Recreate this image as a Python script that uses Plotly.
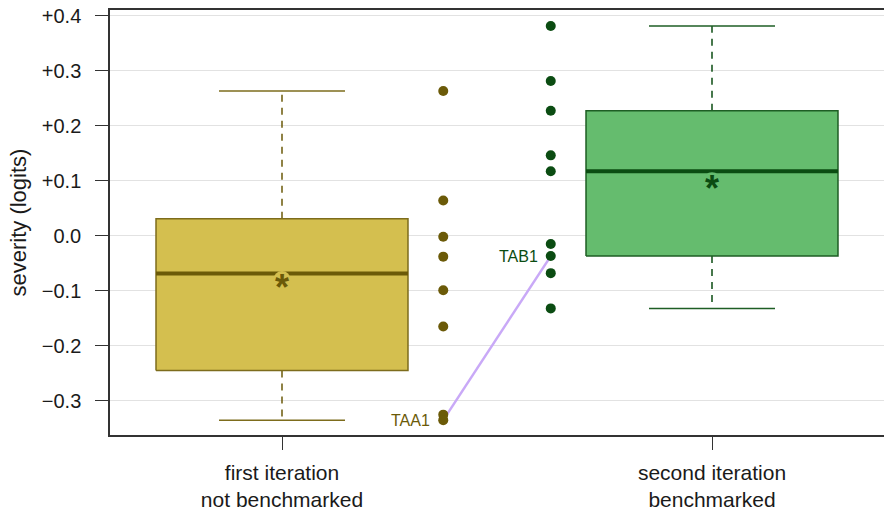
import numpy as np
import plotly.graph_objects as go

# Severity estimates (logits) per unit, by iteration
categories = ["first iteration<br>not benchmarked", "second iteration<br>benchmarked"]
first_vals = [0.263, 0.064, -0.002, -0.038, -0.099, -0.165, -0.325, -0.335]
first_ids = ["", "", "", "", "", "", "", "TAA1"]
second_vals = [0.381, 0.281, 0.227, 0.146, 0.117, -0.015, -0.037, -0.068, -0.132]
second_ids = ["", "", "", "", "", "", "TAB1", "", ""]

tick_vals = [-0.3, -0.2, -0.1, 0.0, 0.1, 0.2, 0.3, 0.4]
tick_text = ["\u22120.3", "\u22120.2", "\u22120.1", "0.0", "+0.1", "+0.2", "+0.3", "+0.4"]

FONT = "Liberation Sans, Arial, Helvetica, sans-serif"

styles = [
    dict(fill="#D4BF4F", edge="#7D6C1C", dark="#6B5A08"),
    dict(fill="#65BC6E", edge="#1E5E24", dark="#0B4C12"),
]


def fivenum(v):
    x = np.sort(np.asarray(v, dtype=float))
    n = len(x)
    n4 = np.floor((n + 3) / 2) / 2
    d = np.array([1, n4, (n + 1) / 2, n + 1 - n4, n]) - 1
    return 0.5 * (x[np.floor(d).astype(int)] + x[np.ceil(d).astype(int)])


fig = go.Figure()

box_half = 0.293
cap_half = box_half / 2
strip_offset = 0.375

groups = [first_vals, second_vals]
ids = [first_ids, second_ids]
centers = [1, 2]
strip_x = [1 + strip_offset, 2 - strip_offset]

for c, vals, st in zip(centers, groups, styles):
    lo, q1, med, q3, hi = fivenum(vals)
    # whiskers (dashed) and caps
    for a, b in [(q3, hi), (q1, lo)]:
        fig.add_trace(go.Scatter(x=[c, c], y=[a, b], mode="lines",
                                 line=dict(color=st["dark"], width=1.5, dash="7px,6px"),
                                 hoverinfo="skip"))
    for v in (lo, hi):
        fig.add_trace(go.Scatter(x=[c - cap_half, c + cap_half], y=[v, v], mode="lines",
                                 line=dict(color=st["edge"], width=1.5), hoverinfo="skip"))
    # box body
    fig.add_trace(go.Scatter(x=[c - box_half, c + box_half, c + box_half, c - box_half, c - box_half],
                             y=[q1, q1, q3, q3, q1], mode="lines", fill="toself",
                             fillcolor=st["fill"], line=dict(color=st["edge"], width=1.5),
                             hoverinfo="skip"))
    # median
    fig.add_trace(go.Scatter(x=[c - box_half, c + box_half], y=[med, med], mode="lines",
                             line=dict(color=st["dark"], width=4), hoverinfo="skip"))
    # mean with halo and asterisk
    mean = float(np.mean(vals))
    fig.add_trace(go.Scatter(x=[c], y=[mean], mode="markers",
                             marker=dict(size=17, color=st["fill"], line=dict(width=0)),
                             hoverinfo="skip"))
    fig.add_annotation(x=c, y=mean, text="<b>*</b>", showarrow=False,
                       font=dict(family=FONT, size=36, color=st["dark"]),
                       yshift=-8)

# link between the labelled units
a_idx = first_ids.index("TAA1")
b_idx = second_ids.index("TAB1")
fig.add_trace(go.Scatter(x=[strip_x[0], strip_x[1]], y=[first_vals[a_idx], second_vals[b_idx]],
                         mode="lines", line=dict(color="#C9A9F7", width=2.5), hoverinfo="skip"))

# individual points
for sx, vals, lab, st in zip(strip_x, groups, ids, styles):
    fig.add_trace(go.Scatter(x=[sx] * len(vals), y=vals, mode="markers",
                             marker=dict(size=10, color=st["dark"]), hoverinfo="skip"))
    for v, name in zip(vals, lab):
        if name:
            fig.add_annotation(x=sx, y=v, text=name, showarrow=False, xanchor="right",
                               xshift=-11, font=dict(family=FONT, size=16, color=st["dark"]))

fig.add_annotation(x=0, y=0.5, xref="paper", yref="paper", text="severity (logits)",
                   textangle=-90, showarrow=False, xanchor="center", yanchor="middle",
                   xshift=-92, font=dict(family=FONT, size=22, color="#1a1a1a"))

fig.update_layout(
    width=884, height=513,
    margin=dict(l=110, r=0, t=10, b=78),
    paper_bgcolor="white", plot_bgcolor="white",
    showlegend=False,
    font=dict(family=FONT, size=20, color="#1a1a1a"),
    xaxis=dict(range=[0.6, 2.4], tickvals=centers, ticktext=categories,
               ticks="outside", ticklen=13, tickwidth=1.3, tickcolor="#333",
               showline=True, linecolor="#333", linewidth=1.5, mirror=True,
               showgrid=False, zeroline=False, ticklabelstandoff=5, automargin=False,
               tickfont=dict(family=FONT, size=21, color="#1a1a1a")),
    yaxis=dict(range=[-0.362, 0.41], tickvals=tick_vals, ticktext=tick_text,
               ticks="outside", ticklen=13, tickwidth=1.3, tickcolor="#333",
               showline=True, linecolor="#333", linewidth=1.5,
               showgrid=True, gridcolor="#E2E2E2", gridwidth=1, zeroline=False,
               ticklabelstandoff=10, automargin=False,
               tickfont=dict(family=FONT, size=20, color="#1a1a1a")),
)

fig.write_html("out.html")
